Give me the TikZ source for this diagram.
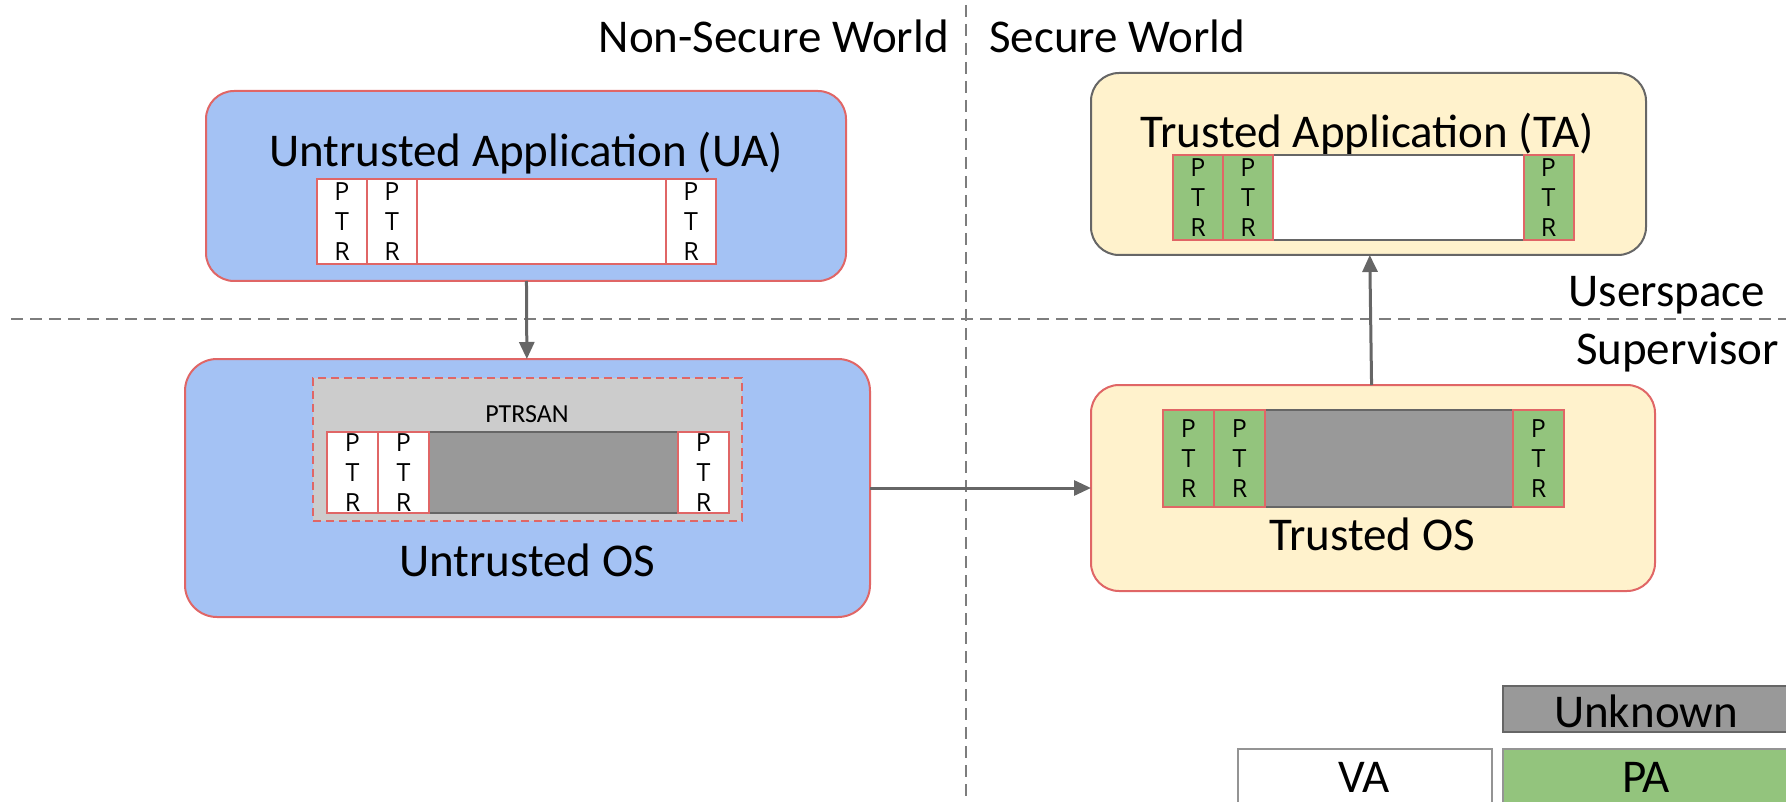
\documentclass[tikz,border=0pt]{standalone}
\usepackage{fontspec}
\setmainfont{Carlito}
\newfontfamily\ptrfont{Open Sans}
\usetikzlibrary{arrows.meta}
\definecolor{uablue}{HTML}{A4C2F4}
\definecolor{boxred}{HTML}{E06666}
\definecolor{tayellow}{HTML}{FFF2CC}
\definecolor{pagreen}{HTML}{93C47D}
\definecolor{unkgray}{HTML}{999999}
\definecolor{sangray}{HTML}{CCCCCC}
\definecolor{linegray}{HTML}{666666}
\tikzset{
  box/.style={draw=boxred, line width=2pt, rounded corners=28pt, inner sep=0pt, outer sep=0pt},
  mem/.style={draw=linegray, line width=2pt, inner sep=0pt, outer sep=0pt},
  ptr/.style={draw=boxred, line width=2pt, inner sep=0pt, minimum width=50pt, align=center, font=\ptrfont\fontsize{25}{30}\selectfont},
  big/.style={inner sep=0pt, font=\fontsize{47}{56}\selectfont},
  flow/.style={draw=linegray, line width=3pt, -{Triangle[length=17pt,width=15pt]}},
  worldline/.style={draw=linegray!85, line width=1.5pt, dash pattern=on 12pt off 7pt}
}
\begin{document}
\begin{tikzpicture}[x=1pt, y=-1pt]
\useasboundingbox (0,0) rectangle (1786,802);
\clip (0,0) rectangle (1786,802);

% borders between worlds and privilege levels
\draw[worldline] (966,5) -- (966,802);
\draw[worldline] (11,319) -- (1786,319);
\node[big, anchor=base east] (nsw) at (949,53) {Non-Secure World};
\node[big, anchor=base west] (sw) at (989,53) {Secure World};
\node[big, anchor=base east] (user) at (1765,307) {Userspace};
\node[big, anchor=base east] (super) at (1779,364) {Supervisor};

% untrusted application
\node[box, fill=uablue, minimum width=640pt, minimum height=190pt] (ua) at (526,186) {};
\node[big, anchor=base] (uatitle) at (526,167) {Untrusted Application (UA)};
\node[mem, draw=boxred, fill=white, minimum width=399pt, minimum height=85pt] (uamem) at (516.5,221.5) {};
\node[ptr, fill=white, minimum height=85pt] (ua1) at (342,221.5) {P\\T\\R};
\node[ptr, fill=white, minimum height=85pt] (ua2) at (392,221.5) {P\\T\\R};
\node[ptr, fill=white, minimum height=85pt] (ua3) at (691,221.5) {P\\T\\R};

% untrusted os
\node[box, fill=uablue, rounded corners=32pt, minimum width=685pt, minimum height=258pt] (uos) at (527.5,488) {};
\node[draw=boxred, line width=2pt, dash pattern=on 8pt off 5pt, fill=sangray, minimum width=429pt, minimum height=143pt] (san) at (527.5,449.5) {};
\node[font=\fontsize{26}{30}\selectfont, inner sep=0pt, anchor=base] (santitle) at (527,422) {PTRSAN};
\node[mem, fill=unkgray, minimum width=402pt, minimum height=81pt] (uosmem) at (528,472.5) {};
\node[ptr, fill=white, minimum height=81pt, minimum width=51pt] (uos1) at (352.5,472.5) {P\\T\\R};
\node[ptr, fill=white, minimum height=81pt, minimum width=51pt] (uos2) at (403.5,472.5) {P\\T\\R};
\node[ptr, fill=white, minimum height=81pt, minimum width=51pt] (uos3) at (703.5,472.5) {P\\T\\R};
\node[big, anchor=base] (uostitle) at (527,576) {Untrusted OS};

% trusted application
\node[box, draw=linegray, fill=tayellow, minimum width=555pt, minimum height=182pt] (ta) at (1368.5,164) {};
\node[big, anchor=base] (tatitle) at (1367,148) {Trusted Application (TA)};
\node[mem, fill=white, minimum width=401pt, minimum height=85pt] (tamem) at (1373.5,197.5) {};
\node[ptr, fill=pagreen, minimum height=85pt] (ta1) at (1198,197.5) {P\\T\\R};
\node[ptr, fill=pagreen, minimum height=85pt] (ta2) at (1248,197.5) {P\\T\\R};
\node[ptr, fill=pagreen, minimum height=85pt] (ta3) at (1548.5,197.5) {P\\T\\R};

% trusted os
\node[box, fill=tayellow, minimum width=564pt, minimum height=206pt] (tos) at (1373,488) {};
\node[mem, fill=unkgray, minimum width=401pt, minimum height=97pt] (tosmem) at (1363.5,458.5) {};
\node[ptr, fill=pagreen, minimum height=97pt, minimum width=51pt] (tos1) at (1188.5,458.5) {P\\T\\R};
\node[ptr, fill=pagreen, minimum height=97pt, minimum width=51pt] (tos2) at (1239.5,458.5) {P\\T\\R};
\node[ptr, fill=pagreen, minimum height=97pt, minimum width=51pt] (tos3) at (1538.5,458.5) {P\\T\\R};
\node[big, anchor=base] (tostitle) at (1372,550) {Trusted OS};

\draw[flow] (ua) -- (uos);
\draw[flow] (uos) -- (tos);
\draw[flow] (tos) -- (ta);

% legend
\node[mem, fill=unkgray, minimum width=290pt, minimum height=46pt] (unk) at (1648,709) {};
\node[big, anchor=base] (unktext) at (1646,727) {Unknown};
\node[mem, draw=linegray!70, fill=white, minimum width=254pt, minimum height=62pt] (va) at (1365,780) {};
\node[big, anchor=base] (vatext) at (1364,792) {VA};
\node[mem, draw=linegray!70, fill=pagreen, minimum width=290pt, minimum height=62pt] (pa) at (1648,780) {};
\node[big, anchor=base] (patext) at (1646,792) {PA};
\end{tikzpicture}
\end{document}
